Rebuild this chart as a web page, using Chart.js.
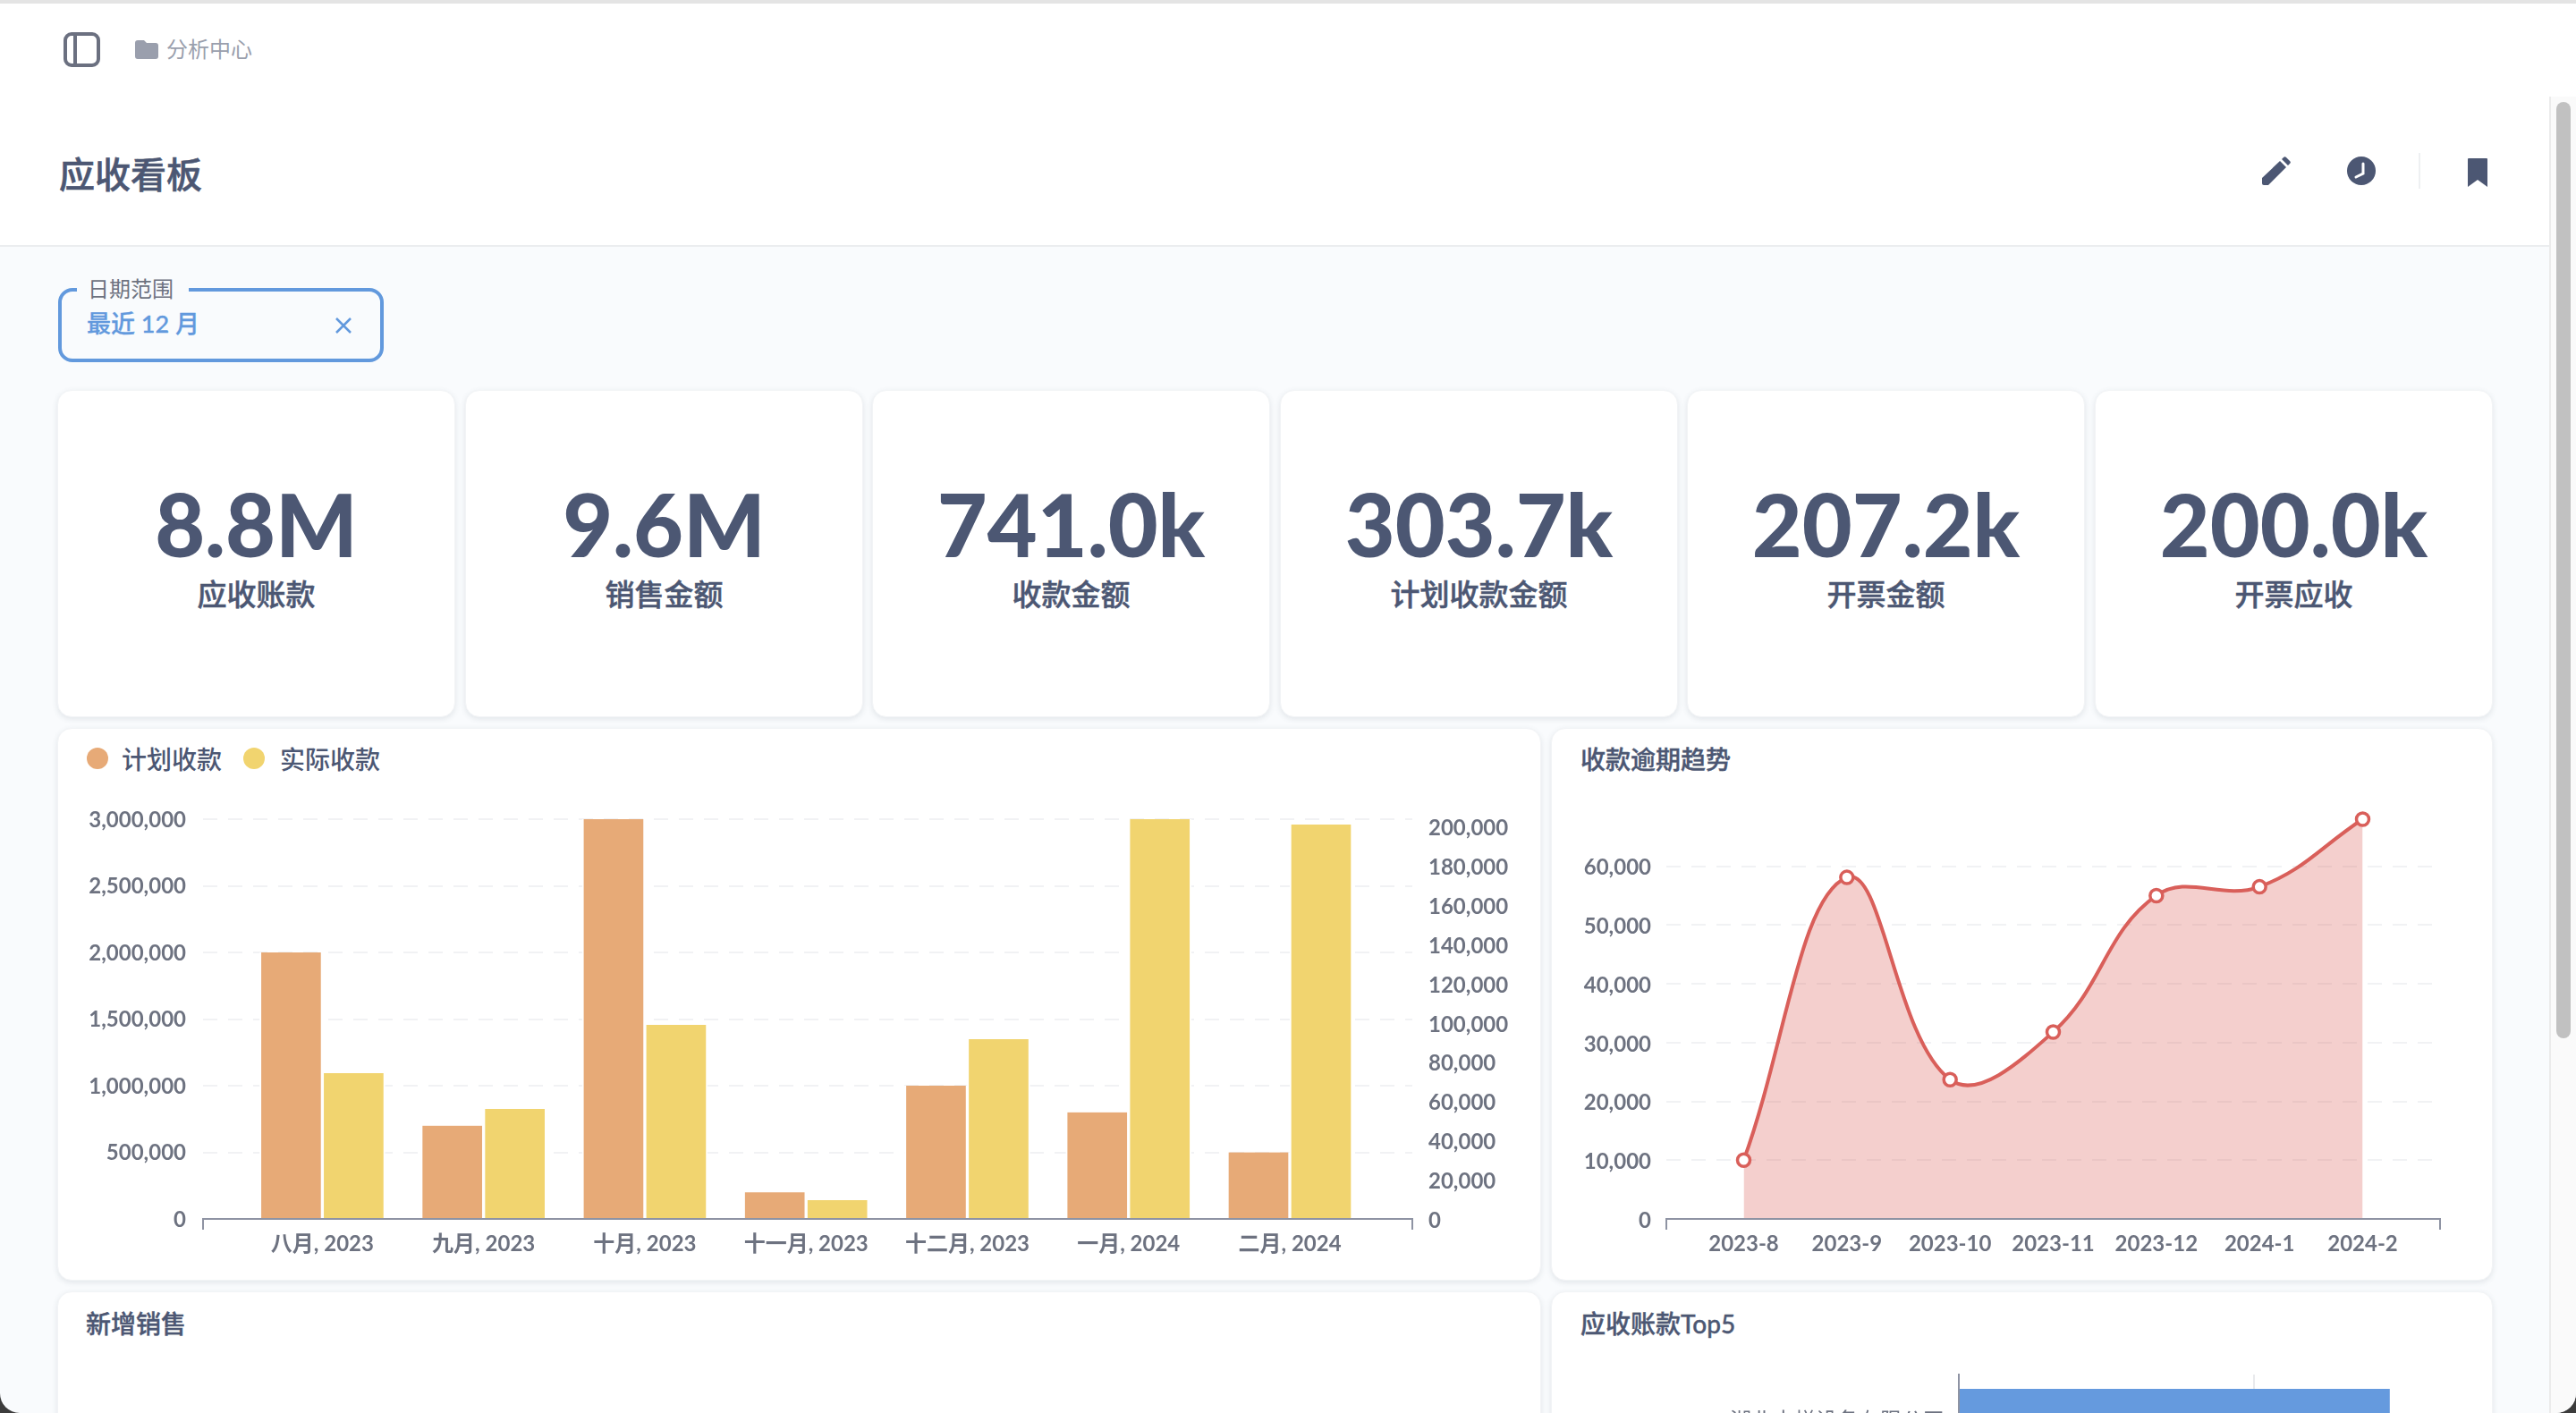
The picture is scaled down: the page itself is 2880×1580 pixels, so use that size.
<!DOCTYPE html>
<html lang="zh">
<head>
<meta charset="utf-8">
<title>应收看板</title>
<script src="https://cdn.jsdelivr.net/npm/chart.js@4/dist/chart.umd.js"></script>
<style>
  html, body { margin: 0; padding: 0; background: #3c3c3c; overflow: hidden; }
  body { width: 2880px; height: 1580px; font-family: Lato, "Noto Sans CJK SC", sans-serif; }
  #page { position: absolute; left: 0; top: 0; width: 2880px; height: 1580px; background: #f9fbfd; overflow: hidden; border-radius: 0 0 22px 22px; }
  #page div, #page svg, #page canvas { position: absolute; }
  .header { left: 0; top: 4px; width: 2880px; height: 271px; background: #fff; }
  .header-line { left: 0; top: 274px; width: 2851px; height: 2px; background: #ebedef; }
  .crumb { left: 186px; top: 40px; font-size: 24px; line-height: 30px; color: #9a9fad; }
  .title { left: 66px; top: 170px; font-size: 40px; line-height: 50px; font-weight: 500; -webkit-text-stroke: .6px #4c5773; color: #4c5773; }
  .filter { left: 65px; top: 322px; width: 356px; height: 75px; border: 4px solid #6299dd; border-radius: 16px; }
  .filter-gap { left: 86px; top: 314px; width: 125px; height: 16px; background: #f9fbfd; }
  .filter-label { left: 98px; top: 308px; font-size: 24px; line-height: 30px; color: #6d7280; }
  .filter-value { left: 97px; top: 344px; font-size: 27px; line-height: 36px; font-weight: 500; -webkit-text-stroke: .3px #6299dd; color: #6299dd; }
  .card { background: #fff; border-radius: 16px; border: 1px solid #f2f4f6; box-sizing: border-box; box-shadow: 0 2px 6px rgba(60, 70, 90, .12); }
  .kpi-value { left: 0; width: 100%; top: 89px; text-align: center; font-size: 96.5px; line-height: 120px; font-weight: 900; color: #4c5773; }
  .kpi-label { left: 0; width: 100%; top: 206px; text-align: center; font-size: 33px; line-height: 42px; font-weight: 500; -webkit-text-stroke: .5px #4c5773; color: #4c5773; }
  .chart-title { font-size: 28px; line-height: 36px; font-weight: 500; -webkit-text-stroke: .4px #4c5773; color: #4c5773; white-space: nowrap; }
  .legend-dot { width: 24px; height: 24px; border-radius: 50%; }
  .legend-text { font-size: 28px; line-height: 36px; font-weight: 500; color: #4c5773; white-space: nowrap; }
  .scroll-track { left: 2850px; top: 108px; width: 30px; height: 1472px; background: #fafafa; border-left: 2px solid #ebebeb; box-sizing: border-box; }
  .scroll-thumb { left: 2858px; top: 114px; width: 16px; height: 1047px; background: #c1c1c1; border-radius: 8px; }
</style>
</head>
<body>
<div id="page">
  <div class="header"></div>
  <div class="header-line"></div>

  <svg style="left:70px;top:35px" width="44" height="41" viewBox="0 0 44 41">
    <rect x="3" y="3" width="37" height="35" rx="7" fill="none" stroke="#6b7080" stroke-width="4"/>
    <line x1="14" y1="3" x2="14" y2="38" stroke="#6b7080" stroke-width="4"/>
  </svg>
  <svg style="left:151px;top:45px" width="26" height="21" viewBox="0 0 26 21">
    <path d="M3 0h7l3 3h10a3 3 0 0 1 3 3v12a3 3 0 0 1-3 3H3a3 3 0 0 1-3-3V3a3 3 0 0 1 3-3z" fill="#9a9fad"/>
  </svg>
  <div class="crumb">分析中心</div>
  <div class="title">应收看板</div>

  <svg style="left:2528px;top:175px" width="33" height="33" viewBox="0 0 33 33">
    <path d="M1 24 21 5l7 7L8 32H3a2 2 0 0 1-2-2z" fill="#4c5773"/>
    <path d="M23 3l2-2a2 2 0 0 1 3 0l4 4a2 2 0 0 1 0 3l-2 2z" fill="#4c5773"/>
  </svg>
  <svg style="left:2624px;top:175px" width="32" height="32" viewBox="0 0 32 32">
    <circle cx="16" cy="16" r="16" fill="#4c5773"/>
    <path d="M18 8v11l-8 4" fill="none" stroke="#fff" stroke-width="3" stroke-linecap="round"/>
  </svg>
  <div style="left:2704px;top:171px;width:2px;height:40px;background:#eef0f2"></div>
  <svg style="left:2759px;top:177px" width="22" height="32" viewBox="0 0 22 32">
    <path d="M1 0h20a1 1 0 0 1 1 1v31l-11-8-11 8V1a1 1 0 0 1 1-1z" fill="#4c5773"/>
  </svg>

  <div class="filter"></div>
  <div class="filter-gap"></div>
  <div class="filter-label">日期范围</div>
  <div class="filter-value">最近 12 月</div>
  <svg style="left:375px;top:355px" width="18" height="18" viewBox="0 0 18 18">
    <path d="M1 1l16 16M17 1L1 17" stroke="#6299dd" stroke-width="2.5" fill="none"/>
  </svg>

  <div id="kpis"></div>

  <!-- 计划收款 / 实际收款 -->
  <div class="card" style="left:64px;top:814px;width:1659px;height:618px"></div>
  <div id="legend"></div>
  <canvas id="cashChart" style="left:64px;top:814px" width="1659" height="618"></canvas>

  <!-- 收款逾期趋势 -->
  <div class="card" style="left:1734px;top:814px;width:1053px;height:618px"></div>
  <div class="chart-title" style="left:1767px;top:831px">收款逾期趋势</div>
  <canvas id="overdueChart" style="left:1734px;top:814px" width="1053" height="618"></canvas>

  <!-- bottom row runs off the page -->
  <div class="card" style="left:64px;top:1444px;width:1659px;height:300px"></div>
  <div class="chart-title" style="left:96px;top:1462px">新增销售</div>
  <div class="card" style="left:1734px;top:1444px;width:1053px;height:300px"></div>
  <div class="chart-title" style="left:1767px;top:1462px">应收账款Top5</div>
  <canvas id="topChart" style="left:1734px;top:1497px" width="1053" height="243"></canvas>

  <div class="scroll-track"></div>
  <div class="scroll-thumb"></div>
  <div style="left:0;top:0;width:2880px;height:4px;background:#e4e4e4"></div>
</div>

<script>
// kpi row
const kpiValues = ['8.8M', '9.6M', '741.0k', '303.7k', '207.2k', '200.0k']
const kpiLabels = ['应收账款', '销售金额', '收款金额', '计划收款金额', '开票金额', '开票应收']

// cash chart
const cashMonths = ['八月, 2023', '九月, 2023', '十月, 2023', '十一月, 2023', '十二月, 2023', '一月, 2024', '二月, 2024']
const plannedCash = [2000000, 700000, 3000000, 200000, 1000000, 800000, 500000]
const actualCash = [74400, 56100, 99000, 9600, 91700, 204000, 201300]
const cashNames = ['计划收款', '实际收款']
const plannedTicks = [0, 500000, 1000000, 1500000, 2000000, 2500000, 3000000]
const actualTicks = [0, 20000, 40000, 60000, 80000, 100000, 120000, 140000, 160000, 180000, 200000]

// overdue chart
const overdueMonths = ['2023-8', '2023-9', '2023-10', '2023-11', '2023-12', '2024-1', '2024-2']
const overdueValues = [10000, 58100, 23700, 31800, 55000, 56500, 68000]
const overdueTicks = [0, 10000, 20000, 30000, 40000, 50000, 60000]

// top 5, only the first row is on screen
const topNames = ['湖北电梯设备有限公司']
const topValues = [2920000]
const topTicks = [0, 2000000]

const FONT_FAMILY = 'Lato, "Noto Sans CJK SC", sans-serif'
const TICK_COLOR = '#6d7280'
const AXIS_COLOR = '#8e93a3'
const GRID_COLOR = '#f1f2f4'
const ORANGE = '#e7aa77'
const YELLOW = '#f1d46f'
const RED = '#d95f5a'
const BLUE = '#659ade'

Chart.defaults.font.family = FONT_FAMILY
Chart.defaults.font.size = 24
Chart.defaults.font.weight = 700
Chart.defaults.color = TICK_COLOR
Chart.defaults.animation = false
Chart.defaults.responsive = false
Chart.defaults.plugins.legend.display = false
Chart.defaults.plugins.tooltip.enabled = false

const page = document.getElementById('page')
const cardLefts = [64, 520, 975, 1431, 1886, 2342]
kpiValues.forEach((value, i) => {
    const card = document.createElement('div')
    card.className = 'card'
    card.style.cssText = `left:${cardLefts[i]}px;top:436px;width:445px;height:366px`
    card.innerHTML = `<div class="kpi-value">${value}</div><div class="kpi-label">${kpiLabels[i]}</div>`
    page.appendChild(card)
})

const legendSpots = [[97, 136], [272, 313]]
const legendHost = document.getElementById('legend')
cashNames.forEach((name, i) => {
    const [dotX, textX] = legendSpots[i]
    const color = i === 0 ? ORANGE : YELLOW
    legendHost.innerHTML += `<div class="legend-dot" style="left:${dotX}px;top:836px;background:${color}"></div>` +
        `<div class="legend-text" style="left:${textX}px;top:831px">${name}</div>`
})

const comma = v => v.toLocaleString('en-US')
const points = values => values.map((y, x) => ({ x, y }))
// stepSize gets rescaled when max is not a whole number of steps, so set the ticks directly
const fixedTicks = values => scale => { scale.ticks = values.map(value => ({ value })) }

// x axis is linear so the first and last month can sit away from the edges,
// the two extra ticks at the bounds give the little end marks on the axis
const monthAxis = (labels, min, max, height) => ({
    type: 'linear',
    min, max,
    offset: false,
    afterBuildTicks: fixedTicks([min, ...labels.map((_, i) => i), max]),
    afterFit: scale => { scale.height = height },
    border: { display: true, color: AXIS_COLOR, width: 2, z: 1 },
    grid: {
        offset: false,
        drawOnChartArea: false,
        tickLength: 12,
        lineWidth: 2,
        color: ctx => Number.isInteger(ctx.tick.value) ? 'transparent' : AXIS_COLOR,
    },
    ticks: {
        autoSkip: false,
        maxRotation: 0,
        padding: 2,
        callback: v => Number.isInteger(v) ? labels[v] : '',
    },
})

const dashedGrid = { color: GRID_COLOR, lineWidth: 2, drawTicks: false }

new Chart(document.getElementById('cashChart'), {
    type: 'bar',
    data: {
        datasets: [
            { label: cashNames[0], data: points(plannedCash), yAxisID: 'y', backgroundColor: ORANGE },
            { label: cashNames[1], data: points(actualCash), yAxisID: 'y2', backgroundColor: YELLOW },
        ],
    },
    options: {
        layout: { padding: { top: 102 } },
        barThickness: 70,
        borderColor: '#fff',
        borderWidth: { left: 2, right: 2, top: 0, bottom: 0 },
        scales: {
            x: monthAxis(cashMonths, -0.74, 6.76, 69),
            y: {
                min: 0,
                max: 3000000,
                afterBuildTicks: fixedTicks(plannedTicks),
                afterFit: scale => { scale.width = 163 },
                border: { display: false, dash: [16, 12] },
                grid: dashedGrid,
                ticks: { padding: 19, labelOffset: 1, callback: comma },
            },
            y2: {
                position: 'right',
                min: 0,
                max: 204000,
                afterBuildTicks: fixedTicks(actualTicks),
                afterFit: scale => { scale.width = 144 },
                border: { display: false },
                grid: { drawOnChartArea: false, drawTicks: false },
                ticks: { padding: 18, labelOffset: 2, callback: comma },
            },
        },
    },
})

new Chart(document.getElementById('overdueChart'), {
    type: 'line',
    data: {
        datasets: [{
            data: points(overdueValues),
            borderColor: RED,
            borderWidth: 4,
            backgroundColor: 'rgba(217, 95, 90, 0.3)',
            fill: 'origin',
            tension: 0.4,
            clip: false,
            pointRadius: 7,
            pointBorderWidth: 3.5,
            pointBackgroundColor: '#fff',
            pointBorderColor: RED,
        }],
    },
    options: {
        layout: { padding: { top: 102, right: 59 } },
        scales: {
            x: monthAxis(overdueMonths, -0.75, 6.75, 69),
            y: {
                min: 0,
                max: 68000,
                afterBuildTicks: fixedTicks(overdueTicks),
                afterFit: scale => { scale.width = 129 },
                border: { display: false, dash: [16, 12] },
                grid: dashedGrid,
                ticks: { padding: 17, labelOffset: 2, callback: comma },
            },
        },
    },
})

new Chart(document.getElementById('topChart'), {
    type: 'bar',
    data: {
        labels: topNames,
        datasets: [{ data: topValues, backgroundColor: BLUE, barPercentage: 1, categoryPercentage: 0.68 }],
    },
    options: {
        indexAxis: 'y',
        layout: { padding: { top: 40, right: 102, bottom: 103 } },
        scales: {
            x: {
                min: 0,
                max: 3000000,
                afterBuildTicks: fixedTicks(topTicks),
                border: { display: false },
                grid: { color: '#e9eaed', lineWidth: 2, drawTicks: false },
                ticks: { display: false },
            },
            y: {
                afterFit: scale => { scale.width = 456 },
                border: { display: true, color: AXIS_COLOR, width: 2, z: 1 },
                grid: { display: false },
                ticks: { padding: 8, labelOffset: 2, font: { weight: 400 } },
            },
        },
    },
})
</script>
</body>
</html>
